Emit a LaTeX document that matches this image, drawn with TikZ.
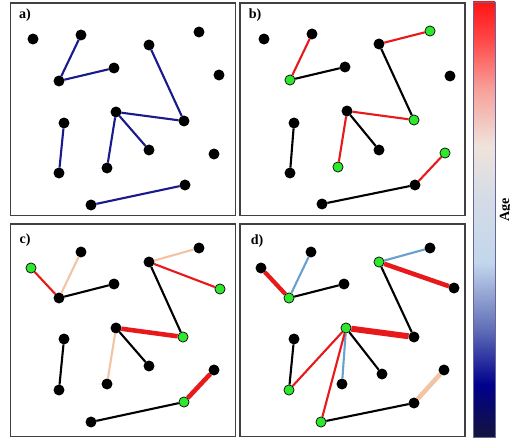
\documentclass[tikz,border=0pt]{standalone}
\usepackage{fontspec}
\setmainfont{Liberation Serif}
\usepackage{tikz}
\usetikzlibrary{positioning}
\definecolor{navyline}{HTML}{1A1A8C}
\definecolor{redline}{HTML}{E8191A}
\definecolor{tanline}{HTML}{F2C4A4}
\definecolor{blueline}{HTML}{6A9FD0}
\definecolor{greendot}{HTML}{2EE82E}
\definecolor{framegray}{HTML}{404040}
\definecolor{cbnavy}{HTML}{14143C}
\definecolor{cbblue}{HTML}{00008C}
\definecolor{cbmid}{HTML}{6270B8}
\definecolor{cblight}{HTML}{C2D6EC}
\definecolor{cbgrey}{HTML}{D4DCE6}
\definecolor{cbbeige}{HTML}{EFE3DA}
\definecolor{cbpink}{HTML}{F7A09A}
\definecolor{cbred}{HTML}{FF1414}
% the path is mapped onto 25bp--75bp of the shading
\pgfdeclareverticalshading{agemap}{100bp}{color(0bp)=(cbnavy); color(25bp)=(cbnavy);
  color(31bp)=(cbblue); color(37.5bp)=(cbmid); color(45bp)=(cblight); color(52.5bp)=(cbgrey);
  color(58.5bp)=(cbbeige); color(65bp)=(cbpink); color(71bp)=(cbred!80!white);
  color(75bp)=(cbred); color(100bp)=(cbred)}

\begin{document}
\begin{tikzpicture}[
   x=0.02cm, y=-0.02cm,
   font=\fontsize{8}{9}\selectfont\bfseries,
   panel/.style={draw=framegray, line width=0.7pt},
   dot/.style={circle, draw=black, fill=black, line width=0.4pt, minimum size=5.8pt, inner sep=0pt},
   gdot/.style={dot, fill=greendot},
   link/.style={line width=1.2pt},
   nav/.style={link, color=navyline},
   blk/.style={link, color=black},
   hot/.style={link, color=redline},
   pale/.style={link, color=tanline},
   cool/.style={link, color=blueline},
]
  \useasboundingbox (0,0) rectangle (510,438);

  % panel frames
  \draw[panel] (10.5,3) rectangle (235.5,215.5);
  \draw[panel] (240,3) rectangle (465,215.5);
  \draw[panel] (10.5,224) rectangle (235.5,436.5);
  \draw[panel] (240,224) rectangle (465,436.5);
  \node (la) at (25,15) {a)};
  \node (lb) at (255,15) {b)};
  \node (lc) at (25,240) {c)};
  \node (ld) at (257,241) {d)};

  % a) initial network
  \foreach \n/\x/\y in {1/33/39, 2/81/35, 3/199/32, 4/149/45, 5/114/68, 6/59/81,
      7/219/75, 8/116/112, 9/184/121, 10/64/123, 11/149/150, 12/214/154,
      13/59/173, 14/107/168, 15/185/185, 16/91/205}
    \node[dot] (a\n) at (\x,\y) {};
  \draw[nav] (a2) -- (a6);  \draw[nav] (a6) -- (a5);
  \draw[nav] (a4) -- (a9);  \draw[nav] (a8) -- (a9);
  \draw[nav] (a8) -- (a11); \draw[nav] (a8) -- (a14);
  \draw[nav] (a10) -- (a13); \draw[nav] (a16) -- (a15);

  % b)
  \foreach \n/\x/\y/\s in {1/264/39/dot, 2/312/34/dot, 3/430/31/gdot, 4/379/44/dot,
      5/345/67/dot, 6/290/80/gdot, 7/450/76/dot, 8/347/111/dot, 9/414/120/gdot,
      10/294/123/dot, 11/379/150/dot, 12/445/153/gdot, 13/290/173/dot,
      14/338/167/gdot, 15/415/185/dot, 16/322/204/dot}
    \node[\s] (b\n) at (\x,\y) {};
  \draw[hot] (b2) -- (b6);  \draw[blk] (b6) -- (b5);
  \draw[hot] (b4) -- (b3);  \draw[blk] (b4) -- (b9);
  \draw[hot] (b8) -- (b9);  \draw[blk] (b8) -- (b11);
  \draw[hot] (b8) -- (b14); \draw[blk] (b10) -- (b13);
  \draw[blk] (b16) -- (b15); \draw[hot] (b15) -- (b12);

  % c)
  \foreach \n/\x/\y/\s in {1/31/268/gdot, 2/81/252/dot, 3/199/248/dot, 4/149/262/dot,
      5/114/284/dot, 6/59/298/dot, 7/220/289/gdot, 8/116/328/dot, 9/183/337/gdot,
      10/64/339/dot, 11/149/366/dot, 12/214/370/dot, 13/59/390/dot,
      14/107/384/dot, 15/184/402/gdot, 16/91/422/dot}
    \node[\s] (c\n) at (\x,\y) {};
  \draw[hot] (c1) -- (c6);  \draw[pale] (c2) -- (c6);
  \draw[blk] (c6) -- (c5);  \draw[pale] (c4) -- (c3);
  \draw[hot] (c4) -- (c7);  \draw[blk] (c4) -- (c9);
  \draw[hot, line width=2.6pt] (c8) -- (c9); \draw[blk] (c8) -- (c11);
  \draw[pale] (c8) -- (c14); \draw[blk] (c10) -- (c13);
  \draw[blk] (c16) -- (c15); \draw[hot, line width=2.6pt] (c15) -- (c12);

  % d)
  \foreach \n/\x/\y/\s in {1/261/268/dot, 2/311/252/dot, 3/430/248/dot, 4/379/262/gdot,
      5/344/284/dot, 6/289/298/gdot, 7/454/288/dot, 8/346/328/gdot, 9/414/337/dot,
      10/294/339/dot, 11/382/374/dot, 12/444/370/dot, 13/289/390/gdot,
      14/342/384/dot, 15/414/403/dot, 16/321/422/gdot}
    \node[\s] (d\n) at (\x,\y) {};
  \draw[hot, line width=2.4pt] (d1) -- (d6); \draw[cool] (d2) -- (d6);
  \draw[blk] (d6) -- (d5);  \draw[cool] (d4) -- (d3);
  \draw[hot, line width=2.6pt] (d4) -- (d7); \draw[blk] (d4) -- (d9);
  \draw[hot, line width=3.4pt] (d8) -- (d9); \draw[blk] (d8) -- (d11);
  \draw[cool] (d8) -- (d14); \draw[hot] (d8) -- (d13);
  \draw[hot] (d8) -- (d16); \draw[blk] (d10) -- (d13);
  \draw[blk] (d16) -- (d15); \draw[pale, line width=2.6pt] (d15) -- (d12);

  % colour bar
  \shade[shading=agemap, draw=gray!80!blue, line width=0.5pt] (473,2) rectangle (495,437);
  \node[rotate=90] (age) at (506,210) {Age};
\end{tikzpicture}
\end{document}
